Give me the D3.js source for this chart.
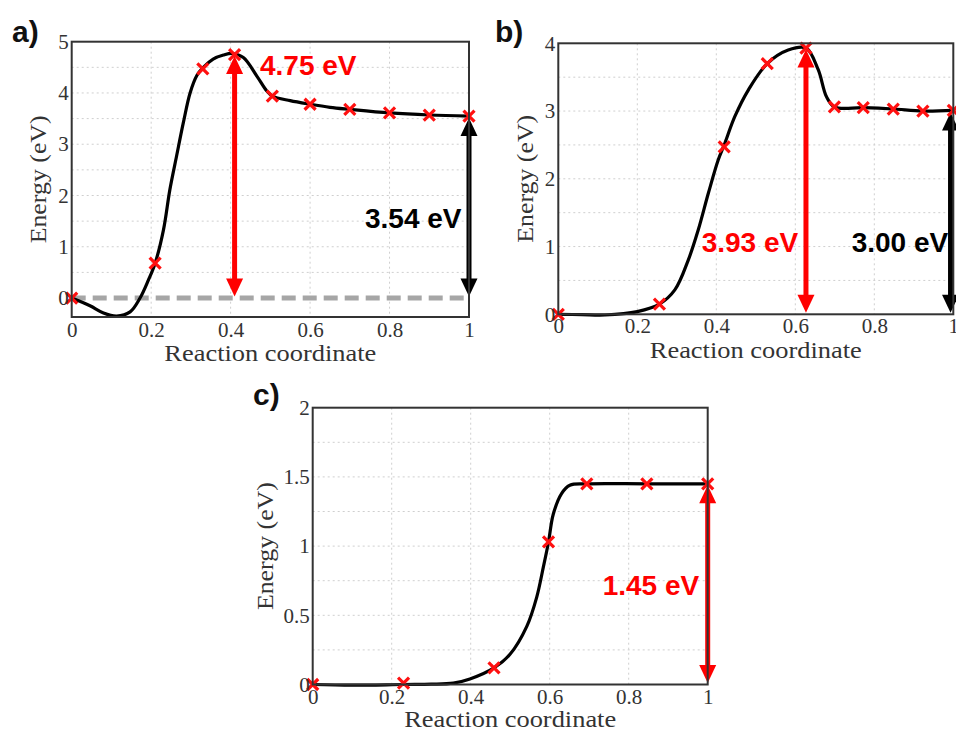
<!DOCTYPE html>
<html><head><meta charset="utf-8">
<script src="https://cdn.jsdelivr.net/npm/d3@7"></script>
<style>body{margin:0;background:#fff} svg{display:block}</style>
</head><body><svg id="chart" width="956" height="731"></svg>
<script>
// ---------- data ----------
const xTicks = [0, 0.2, 0.4, 0.6, 0.8, 1];
const yTicksA = [0, 1, 2, 3, 4, 5];
const yTicksB = [0, 1, 2, 3, 4];
const yTicksC = [0, 0.5, 1, 1.5, 2];

const imagesA_x = [0, 0.21, 0.33, 0.41, 0.505, 0.60, 0.70, 0.80, 0.90, 1.0];
const imagesA_y = [0, 0.68, 4.47, 4.75, 3.94, 3.78, 3.68, 3.61, 3.57, 3.55];
const curveA_x = [0, 0.046, 0.08, 0.113, 0.147, 0.172, 0.193, 0.21, 0.231, 0.247, 0.264, 0.281, 0.298, 0.315, 0.33, 0.356, 0.382, 0.405, 0.432, 0.466, 0.491, 0.505, 0.55, 0.60, 0.65, 0.70, 0.80, 0.90, 1.0];
const curveA_y = [0, -0.15, -0.29, -0.35, -0.27, 0, 0.35, 0.68, 1.33, 2.11, 2.77, 3.42, 4.0, 4.34, 4.49, 4.66, 4.74, 4.77, 4.69, 4.33, 4.04, 3.94, 3.85, 3.78, 3.72, 3.68, 3.61, 3.57, 3.55];

const imagesB_x = [0, 0.256, 0.42, 0.529, 0.627, 0.699, 0.772, 0.848, 0.923, 1.0];
const imagesB_y = [0, 0.15, 2.47, 3.70, 3.93, 3.06, 3.05, 3.03, 3.00, 3.01];
const curveB_x = [0, 0.06, 0.118, 0.2, 0.256, 0.295, 0.329, 0.354, 0.38, 0.405, 0.42, 0.447, 0.481, 0.529, 0.582, 0.627, 0.658, 0.679, 0.699, 0.772, 0.848, 0.923, 1.0];
const curveB_y = [0, -0.005, -0.01, 0.04, 0.15, 0.36, 0.80, 1.24, 1.79, 2.28, 2.50, 2.92, 3.31, 3.70, 3.90, 3.93, 3.61, 3.21, 3.06, 3.05, 3.03, 3.00, 3.01];

const imagesC_x = [0, 0.23, 0.459, 0.597, 0.694, 0.846, 1.0];
const imagesC_y = [0, 0.01, 0.12, 1.03, 1.45, 1.45, 1.45];
const curveC_x = [0, 0.1, 0.23, 0.3, 0.356, 0.398, 0.459, 0.50, 0.542, 0.567, 0.584, 0.597, 0.609, 0.63, 0.651, 0.694, 0.846, 1.0];
const curveC_y = [0, -0.005, 0.0, 0.002, 0.01, 0.04, 0.12, 0.22, 0.42, 0.63, 0.85, 1.03, 1.23, 1.38, 1.44, 1.45, 1.45, 1.45];

const panelLabels = ["a)", "b)", "c)"];
const barrierA = 4.75, reactionA = 3.54;
const barrierB = 3.93, reactionB = 3.00;
const reactionC = 1.45;
const xTitle = "Reaction coordinate";
const yTitle = "Energy (eV)";

// ---------- layout ----------
const panels = [
  {label: panelLabels[0], L: 71.7, R: 469, T: 41.7, B: 317, yDom: [-0.37, 5], yTicks: yTicksA, yGrid: 0.5,
   ix: imagesA_x, iy: imagesA_y, cx: curveA_x, cy: curveA_y,
   lab: [12, 41.7], yTitleX: 46, xTitleY: 361, xLabY: 337,
   dashed: true,
   arrows: [{x: 0.41, v: barrierA, color: "#ff0000"}, {x: 1, v: reactionA, color: "#000"}],
   texts: [{t: barrierA.toFixed(2) + " eV", x: 260, y: 75, c: "#ff0000"}, {t: reactionA.toFixed(2) + " eV", x: 365, y: 228, c: "#000"}]},
  {label: panelLabels[1], L: 558.3, R: 953.3, T: 43.3, B: 314.3, yDom: [0, 4], yTicks: yTicksB, yGrid: 0.5,
   ix: imagesB_x, iy: imagesB_y, cx: curveB_x, cy: curveB_y,
   lab: [495, 41.7], yTitleX: 533, xTitleY: 358, xLabY: 333,
   dashed: false,
   arrows: [{x: 0.627, v: barrierB, color: "#ff0000"}, {x: 0.993, v: reactionB, color: "#000"}],
   texts: [{t: barrierB.toFixed(2) + " eV", x: 701.7, y: 251.7, c: "#ff0000"}, {t: reactionB.toFixed(2) + " eV", x: 851.7, y: 251.7, c: "#000"}]},
  {label: panelLabels[2], L: 312.7, R: 707.7, T: 407.7, B: 684.5, yDom: [0, 2], yTicks: yTicksC, yGrid: 0.25,
   ix: imagesC_x, iy: imagesC_y, cx: curveC_x, cy: curveC_y,
   lab: [253, 405], yTitleX: 273, xTitleY: 727, xLabY: 704,
   dashed: false,
   arrows: [{x: 1, v: reactionC, color: "#ff0000"}],
   texts: [{t: reactionC.toFixed(2) + " eV", x: 602.7, y: 595, c: "#ff0000"}]}
];

const svg = d3.select("#chart");
const fmt = d => d3.format("~g")(d);
const serif = "'Liberation Serif', 'Times New Roman', Times, serif";
const sans = "'Liberation Sans', Arial, sans-serif";

panels.forEach(p => {
  const x = d3.scaleLinear().domain([0, 1]).range([p.L, p.R]);
  const y = d3.scaleLinear().domain(p.yDom).range([p.B, p.T]);
  const g = svg.append("g");

  // grid
  const gx = xTicks.filter(v => v > 0 && v < 1);
  g.selectAll(".vg").data(gx).join("line")
    .attr("x1", d => x(d)).attr("x2", d => x(d)).attr("y1", p.T).attr("y2", p.B)
    .attr("stroke", "#cfcfcf").attr("stroke-width", 1).attr("stroke-dasharray", "2,3");
  const gy = d3.range(p.yDom[0] < 0 ? p.yGrid : p.yDom[0] + p.yGrid, p.yDom[1] - 1e-9, p.yGrid);
  g.selectAll(".hg").data(gy).join("line")
    .attr("x1", p.L).attr("x2", p.R).attr("y1", d => y(d)).attr("y2", d => y(d))
    .attr("stroke", "#cfcfcf").attr("stroke-width", 1).attr("stroke-dasharray", "2,3");

  // dashed zero line
  if (p.dashed) {
    g.append("line").attr("x1", x(0)).attr("x2", x(1)).attr("y1", y(0)).attr("y2", y(0))
      .attr("stroke", "#a6a6a6").attr("stroke-width", 5).attr("stroke-dasharray", "14,7");
  }

  // curve
  const pts = p.cx.map((v, i) => [v, p.cy[i]]);
  g.append("path").datum(pts)
    .attr("d", d3.line().x(d => x(d[0])).y(d => y(d[1])).curve(d3.curveCatmullRom.alpha(0.5)))
    .attr("fill", "none").attr("stroke", "#000").attr("stroke-width", 3.2);

  // arrows
  p.arrows.forEach(a => {
    const ax = x(a.x), yTop = y(a.v) + 1.5, yBot = y(0) - 1.5;
    const hl = 18, hw = 8.5;
    g.append("line").attr("x1", ax).attr("x2", ax).attr("y1", yTop + hl - 2).attr("y2", yBot - hl + 2)
      .attr("stroke", a.color).attr("stroke-width", 5);
    g.append("path").attr("d", `M${ax},${yTop}L${ax - hw},${yTop + hl}L${ax + hw},${yTop + hl}Z`).attr("fill", a.color);
    g.append("path").attr("d", `M${ax},${yBot}L${ax - hw},${yBot - hl}L${ax + hw},${yBot - hl}Z`).attr("fill", a.color);
  });

  // markers
  const s = 5.5;
  g.selectAll(".mk").data(p.ix.map((v, i) => [v, p.iy[i]])).join("path")
    .attr("d", d => { const cx = x(d[0]), cy = y(d[1]); return `M${cx - s},${cy - s}L${cx + s},${cy + s}M${cx - s},${cy + s}L${cx + s},${cy - s}`; })
    .attr("stroke", "#ff1010").attr("stroke-width", 3.2).attr("fill", "none");

  // frame
  g.append("rect").attr("x", p.L).attr("y", p.T).attr("width", p.R - p.L).attr("height", p.B - p.T)
    .attr("fill", "none").attr("stroke", "#333").attr("stroke-width", 2);

  // axes
  const ya = g.append("g").attr("transform", `translate(${p.L},0)`)
    .call(d3.axisLeft(y).tickValues(p.yTicks).tickFormat(fmt).tickSize(0).tickPadding(3));
  ya.select(".domain").remove();
  ya.selectAll("text").attr("font-family", serif).attr("font-size", 21).attr("fill", "#333");

  const xa = g.append("g").attr("transform", `translate(0,${p.B})`)
    .call(d3.axisBottom(x).tickValues(xTicks).tickFormat(fmt).tickSize(0).tickPadding(0));
  xa.select(".domain").remove();
  xa.selectAll("text").attr("font-family", serif).attr("font-size", 21).attr("fill", "#333")
    .attr("dy", null).attr("y", p.xLabY - p.B);

  // titles
  g.append("text").attr("x", (p.L + p.R) / 2).attr("y", p.xTitleY).attr("text-anchor", "middle")
    .attr("font-family", serif).attr("font-size", 23).attr("fill", "#333")
    .attr("textLength", 212).attr("lengthAdjust", "spacingAndGlyphs").text(xTitle);
  g.append("text").attr("transform", `translate(${p.yTitleX},${(p.T + p.B) / 2}) rotate(-90)`)
    .attr("text-anchor", "middle")
    .attr("font-family", serif).attr("font-size", 23).attr("fill", "#333")
    .attr("textLength", 128).attr("lengthAdjust", "spacingAndGlyphs").text(yTitle);

  // annotations
  p.texts.forEach(t => {
    g.append("text").attr("x", t.x).attr("y", t.y).attr("font-family", sans)
      .attr("font-weight", "bold").attr("font-size", 28).attr("fill", t.c).text(t.t);
  });

  // panel label
  svg.append("text").attr("x", p.lab[0]).attr("y", p.lab[1]).attr("font-family", sans)
    .attr("font-weight", "bold").attr("font-size", 30).attr("fill", "#111").text(p.label);
});
</script></body></html>
